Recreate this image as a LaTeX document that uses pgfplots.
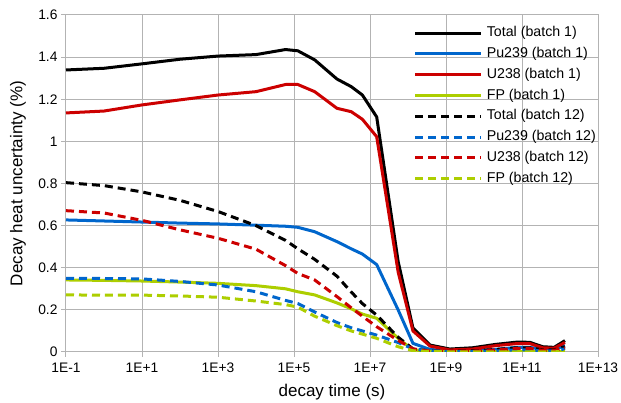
\documentclass[border=0pt]{standalone}
\usepackage{pgfplots}
\usepackage{pgfplotstable}
\pgfplotsset{compat=1.18}
\usepackage{fontspec}
\setmainfont{Liberation Sans}
\definecolor{gridgray}{RGB}{179,179,179}
\definecolor{cblue}{RGB}{0,102,204}
\definecolor{cred}{RGB}{204,0,0}
\definecolor{cgreen}{RGB}{173,206,0}

\pgfplotstableread{
t       tot1   pu1    u1     fp1    tot12  pu12   u12    fp12
1e-1    1.339  0.627  1.135  0.342  0.804  0.350  0.671  0.271
1e0     1.347  0.622  1.144  0.340  0.790  0.349  0.660  0.270
1e1     1.368  0.617  1.173  0.337  0.760  0.347  0.625  0.270
1e2     1.390  0.612  1.197  0.332  0.720  0.335  0.580  0.266
1e3     1.405  0.608  1.220  0.326  0.667  0.318  0.540  0.260
1e4     1.412  0.602  1.236  0.315  0.600  0.286  0.488  0.242
6e4     1.436  0.597  1.270  0.300  0.530  0.245  0.410  0.225
1.26e5  1.430  0.592  1.270  0.286  0.490  0.230  0.373  0.213
3.5e5   1.387  0.571  1.236  0.271  0.440  0.190  0.342  0.170
1.35e6  1.296  0.524  1.157  0.233  0.360  0.140  0.263  0.125
3.2e6   1.260  0.490  1.141  0.205  0.285  0.115  0.210  0.100
6.3e6   1.220  0.465  1.105  0.180  0.230  0.100  0.170  0.085
1.5e7   1.116  0.415  1.022  0.160  0.175  0.080  0.120  0.065
5.5e7   0.430  0.200  0.380  0.065  0.070  0.045  0.055  0.025
1.35e8  0.114  0.041  0.100  0.010  0.015  0.015  0.015  0.006
3.8e8   0.033  0.012  0.028  0.003  0.005  0.004  0.004  0.002
1.26e9  0.014  0.006  0.010  0.002  0.003  0.002  0.002  0.001
5e9     0.020  0.006  0.014  0.002  0.005  0.002  0.004  0.001
2e10    0.036  0.012  0.030  0.002  0.012  0.005  0.010  0.001
7.4e10  0.047  0.022  0.040  0.002  0.020  0.010  0.017  0.001
1.6e11  0.046  0.022  0.040  0.002  0.020  0.010  0.017  0.001
3.5e11  0.025  0.012  0.020  0.002  0.010  0.005  0.008  0.001
7e11    0.022  0.012  0.018  0.002  0.010  0.005  0.008  0.001
1.35e12 0.054  0.030  0.045  0.004  0.025  0.015  0.020  0.002
}\data

\begin{document}
\begin{tikzpicture}
\begin{axis}[
  scale only axis, width=532pt, height=337pt,
  xmode=log, xmin=1e-1, xmax=1e13, ymin=0, ymax=1.6,
  xtick={1e-1,1e1,1e3,1e5,1e7,1e9,1e11,1e13},
  xticklabels={1E-1,1E+1,1E+3,1E+5,1E+7,1E+9,1E+11,1E+13},
  xminorticks=false,
  ytick={0,0.2,0.4,0.6,0.8,1,1.2,1.4,1.6},
  yticklabels={0,0.2,0.4,0.6,0.8,1,1.2,1.4,1.6},
  xtick pos=bottom, ytick pos=left,
  tick align=outside, major tick length=5pt,
  grid=major, major grid style={gridgray, line width=1pt},
  axis line style={gridgray, line width=1pt},
  tick style={gridgray, line width=1pt},
  ticklabel style={font=\fontsize{13.8}{16}\selectfont, black},
  xticklabel style={yshift=-2pt},
  xlabel={decay time (s)},
  ylabel={Decay heat uncertainty (\%)},
  every axis x label/.style={at={([yshift=-40pt]axis description cs:0.5,0)}, anchor=center, font=\fontsize{17}{20}\selectfont},
  every axis y label/.style={at={([xshift=-48pt]axis description cs:0,0.5)}, rotate=90, anchor=center, font=\fontsize{17}{20}\selectfont},
  legend cell align=left,
  legend image code/.code={\draw[#1, line cap=butt] (0pt,0pt) -- (66pt,0pt);},
  legend style={at={(axis description cs:1,1)}, anchor=north east, xshift=-1pt, yshift=-10pt,
    draw=none, fill=none, inner sep=0pt, row sep=4.8pt,
    font=\fontsize{14.2}{17}\selectfont,
    nodes={inner sep=1pt, text height=10.5pt, text depth=3.5pt},
    /tikz/every odd column/.append style={column sep=3pt}},
  every axis plot/.append style={line width=3pt, line join=round},
]
\addplot[black] table[x=t, y=tot1] {\data};
\addlegendentry{Total (batch 1)}
\addplot[cblue, line width=3pt] table[x=t, y=pu1] {\data};
\addlegendentry{Pu239 (batch 1)}
\addplot[cred] table[x=t, y=u1] {\data};
\addlegendentry{U238 (batch 1)}
\addplot[cgreen] table[x=t, y=fp1] {\data};
\addlegendentry{FP (batch 1)}
\addplot[black, dash pattern=on 8pt off 5pt] table[x=t, y=tot12] {\data};
\addlegendentry{Total (batch 12)}
\addplot[cblue, line width=3pt, dash pattern=on 8pt off 5pt] table[x=t, y=pu12] {\data};
\addlegendentry{Pu239 (batch 12)}
\addplot[cred, line width=3pt, dash pattern=on 8pt off 5pt] table[x=t, y=u12] {\data};
\addlegendentry{U238 (batch 12)}
\addplot[cgreen, line width=3pt, dash pattern=on 8pt off 5pt] table[x=t, y=fp12] {\data};
\addlegendentry{FP (batch 12)}
\end{axis}
\pgfresetboundingbox
\path ([shift={(-66pt,-51pt)}]current axis.south west) rectangle ([shift={(23pt,15pt)}]current axis.north east);
\end{tikzpicture}
\end{document}
